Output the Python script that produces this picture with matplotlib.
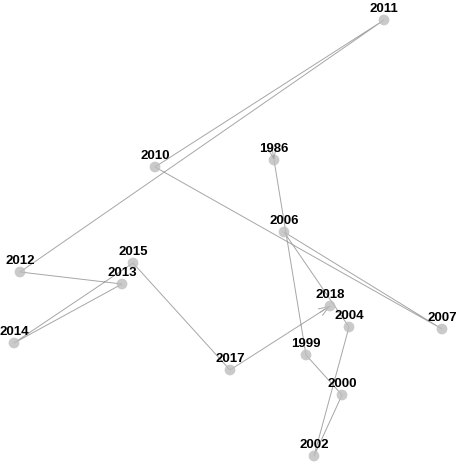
import matplotlib.pyplot as plt

# years in path order, with x / y positions
years = ['1986', '1999', '2000', '2002', '2004', '2006', '2007', '2010',
         '2011', '2012', '2013', '2014', '2015', '2017', '2018']
xs = [274, 306, 342, 314, 349, 284, 442, 155, 384, 20, 122, 14, 133, 230, 330]
ys = [302, 107, 67, 6, 135, 230, 133, 295, 442, 190, 178, 119, 199, 92, 156]

fig = plt.figure(figsize=(4.57, 4.62), dpi=100)
ax = fig.add_axes([0, 0, 1, 1])
ax.set_xlim(0, 457)
ax.set_ylim(0, 462)
ax.axis('off')

line_col = '#a6a6a6'
ax.plot(xs, ys, color=line_col, lw=0.7, zorder=1)

# arrowheads: end of the path, and the one sitting on the first point
head = '->,head_length=0.9,head_width=0.35'
ax.annotate('', xy=(xs[-1], ys[-1]),
            xytext=(xs[-1] - (xs[-1] - xs[-2]) * 0.1, ys[-1] - (ys[-1] - ys[-2]) * 0.1),
            arrowprops=dict(arrowstyle=head, color=line_col, lw=0.7,
                            shrinkA=0, shrinkB=0, mutation_scale=8))
ax.annotate('', xy=(xs[0], ys[0]),
            xytext=(xs[0] - (xs[1] - xs[0]) * 0.08, ys[0] - (ys[1] - ys[0]) * 0.08),
            arrowprops=dict(arrowstyle=head, color=line_col, lw=0.7,
                            shrinkA=0, shrinkB=0, mutation_scale=9), zorder=4)

ax.scatter(xs, ys, s=60, color='#bdbdbd', alpha=0.8, edgecolors='none', zorder=3)

for x, y, lab in zip(xs, ys, years):
    ax.text(x, y + 8, lab, ha='center', va='baseline', fontsize=9.5,
            fontweight='bold', family='Liberation Sans', color='black', zorder=4)

fig.savefig('out.png', dpi=100)
